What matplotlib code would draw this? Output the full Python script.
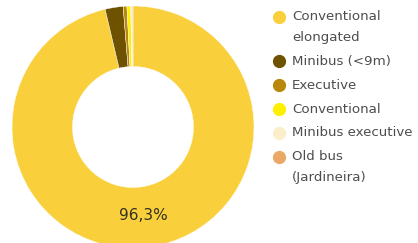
import matplotlib
matplotlib.use("Agg")
import matplotlib.pyplot as plt
import numpy as np

categories = ["Conventional\nelongated", "Minibus (<9m)", "Executive",
              "Conventional", "Minibus executive", "Old bus\n(Jardineira)"]
values = [96.3, 2.4, 0.5, 0.5, 0.2, 0.1]
colors = ["#F9D03C", "#6E5200", "#B8870C", "#FFF000", "#FBEFCB", "#E9A866"]
center_label = "96,3%"

W, H = 418, 243
fig = plt.figure(figsize=(W / 100, H / 100), dpi=100)

# donut: centre (133,127) px from top-left, outer radius 121 px
cx, cy, r = 133, 127, 121
ax = fig.add_axes([(cx - r) / W, (H - cy - r) / H, 2 * r / W, 2 * r / H])
wedges, _ = ax.pie(values, colors=colors, startangle=90, counterclock=False,
                   radius=1.0, wedgeprops=dict(width=0.5, linewidth=0.3, edgecolor="white"))
ax.set_xlim(-1, 1)
ax.set_ylim(-1, 1)
ax.set_aspect("equal")
ax.axis("off")

# label of biggest slice at mid-ring radius
ang = np.deg2rad(90 - 360 * values[0] / 100 / 2)
rr = 0.75
ax.text(rr * np.cos(ang), rr * np.sin(ang) + 0.01, center_label, ha="center", va="center",
        fontsize=11, color="#33311f", family="DejaVu Sans")

# legend drawn manually
y = 17
line_h = 20
gap = 24
for lab, col in zip(categories, colors):
    fy = 1 - y / H
    fig.add_artist(plt.Line2D([279 / W], [fy], marker="o", markersize=8.5,
                              color=col, linestyle="none", transform=fig.transFigure))
    nlines = lab.count("\n") + 1
    for i, line in enumerate(lab.split("\n")):
        fig.text(292 / W, 1 - (y + i * line_h) / H, line, fontsize=9.6,
                 color="#4d4d4d", va="center", ha="left", family="DejaVu Sans")
    y += gap + line_h * (nlines - 1)

fig.savefig("out.png", dpi=100)
